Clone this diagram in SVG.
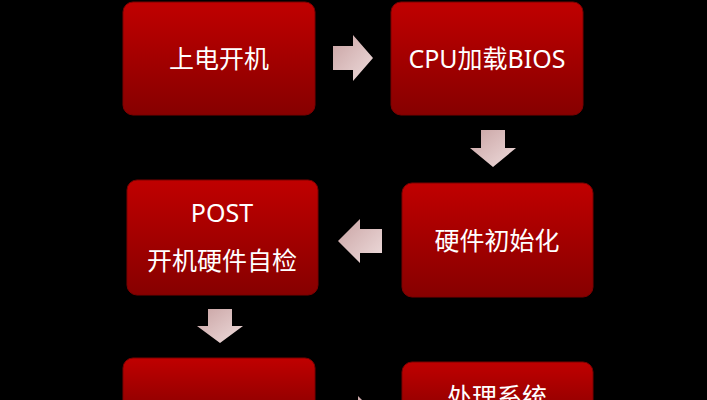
<svg xmlns="http://www.w3.org/2000/svg" width="707" height="400" viewBox="0 0 707 400">
<defs>
<linearGradient id="r" x1="0" y1="0" x2="0" y2="1"><stop offset="0" stop-color="#c00000"/><stop offset="1" stop-color="#860000"/></linearGradient>
<linearGradient id="a" x1="0" y1="0" x2="1" y2="1"><stop offset="0" stop-color="#c9a3a3"/><stop offset="1" stop-color="#eedcdc"/></linearGradient>
<style>.b{fill:url(#r);stroke:#7a0000;stroke-width:1}.t{fill:#fff;font-family:"Noto Sans","Noto Sans CJK SC",sans-serif;font-size:25px;text-anchor:middle}.ar{fill:url(#a)}</style>
</defs>
<rect width="707" height="400" fill="#000"/>
<g id="n1"><rect class="b" x="123" y="2" width="192" height="113" rx="10"/><text class="t" x="219" y="68">上电开机</text></g>
<g id="n2"><rect class="b" x="391" y="2" width="192" height="113" rx="10"/><text class="t" x="487" y="68">CPU加载BIOS</text></g>
<g id="n3"><rect class="b" x="127" y="180" width="191" height="115" rx="10"/><text class="t" x="222" y="222">POST</text><text class="t" x="222" y="270">开机硬件自检</text></g>
<g id="n4"><rect class="b" x="402" y="183" width="191" height="114" rx="10"/><text class="t" x="497" y="250">硬件初始化</text></g>
<g id="n5"><rect class="b" x="123" y="358" width="192" height="60" rx="10"/></g>
<g id="n6"><rect class="b" x="402" y="362" width="191" height="60" rx="10"/><text class="t" x="497" y="406">处理系统</text></g>
<g id="connectors">
<polygon class="ar" points="333,46 353,46 353,35 373,58 353,81 353,70 333,70"/>
<polygon class="ar" points="481,130 505,130 505,148 516,148 493,167 470,148 481,148"/>
<polygon class="ar" points="382,229 360,229 360,219 338,241 360,263 360,253 382,253"/>
<polygon class="ar" points="208,309 232,309 232,326 243,326 220,343 197,326 208,326"/>
<polygon class="ar" points="358,396 366,404 358,412"/>
</g>
</svg>
